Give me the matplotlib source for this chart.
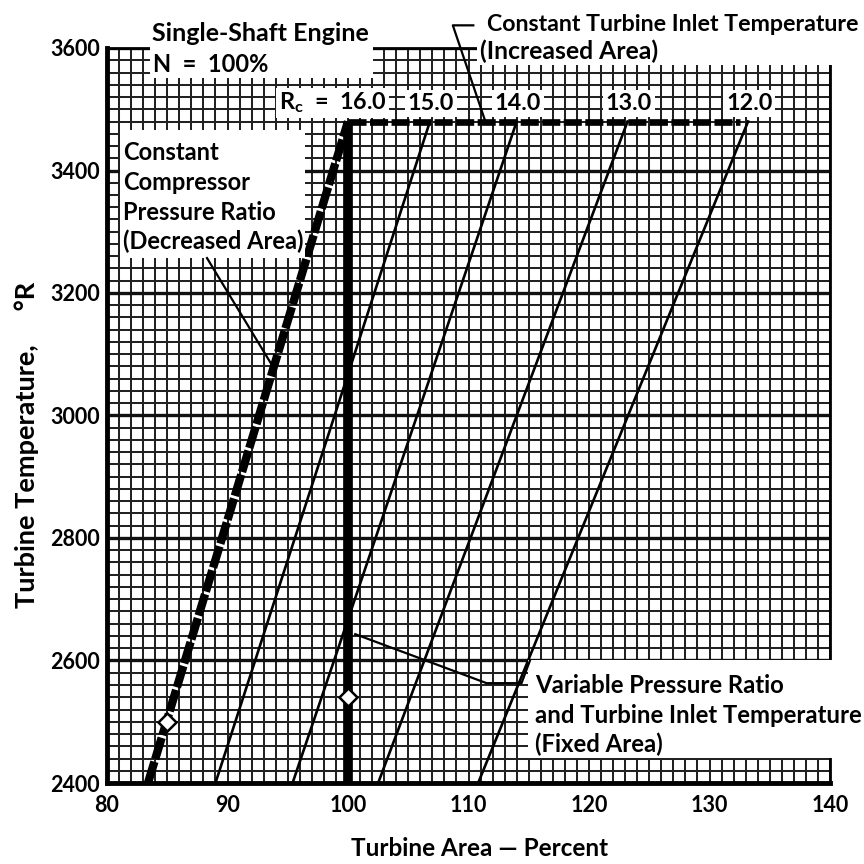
import matplotlib
matplotlib.use("Agg")
import matplotlib.pyplot as plt
from matplotlib.patches import Rectangle
import numpy as np

plt.rcParams['font.family'] = ['Lato', 'DejaVu Sans']
plt.rcParams['font.weight'] = 'bold'
plt.rcParams['mathtext.fontset'] = 'custom'
plt.rcParams['mathtext.rm'] = 'Lato:bold'
plt.rcParams['mathtext.it'] = 'Lato:bold'
plt.rcParams['mathtext.default'] = 'regular'
plt.rcParams['lines.scale_dashes'] = False

# Compressor pressure ratio lines: turbine area at 2400 R and at the inlet temperature limit
pressure_ratio = [16.0, 15.0, 14.0, 13.0, 12.0]
area_low = [83.4, 89.0, 95.4, 102.5, 110.8]
area_high = [100.0, 106.8, 114.0, 123.2, 133.2]
temp_low = 2400
temp_limit = 3480

# Fixed-area operation and constant inlet temperature operation
fixed_area = 100.0
const_temp_area = [100.0, 132.5]

# Design points
point_area = [85.0, 100.0]
point_temp = [2500, 2540]

x_ticks = [80, 90, 100, 110, 120, 130, 140]
y_ticks = [2400, 2600, 2800, 3000, 3200, 3400, 3600]

W = H = 864.0


def fx(px):
    return px / W


def fy(py):
    return 1 - py / H


fig = plt.figure(figsize=(8.64, 8.64), dpi=100)
ax = fig.add_axes([fx(107), fy(783), (830 - 107) / W, (783 - 48) / H])
ax.set_xlim(x_ticks[0], x_ticks[-1])
ax.set_ylim(y_ticks[0], y_ticks[-1])

# graph-paper grid
ax.set_xticks(x_ticks)
ax.set_xticks(np.arange(80, 141, 1), minor=True)
ax.set_yticks(y_ticks)
ax.set_yticks(np.arange(2400, 3601, 20), minor=True)
ax.tick_params(which='both', length=0)
ax.tick_params(axis='x', pad=9, labelsize=15.5)
ax.tick_params(axis='y', pad=5, labelsize=15.5)
ax.set_axisbelow(True)
ax.xaxis.grid(True, which='both', color='#222222', lw=1.45)
ax.yaxis.grid(True, which='minor', color='#222222', lw=1.45)
ax.yaxis.grid(True, which='major', color='#111111', lw=2.4)
for side in ('left', 'bottom'):
    ax.spines[side].set_linewidth(3.5)
for side in ('top', 'right'):
    ax.spines[side].set_linewidth(2.0)

# pressure ratio lines
for rc, a0, a1 in zip(pressure_ratio, area_low, area_high):
    if rc == 16.0:
        ax.plot([a0, a1], [temp_low, temp_limit], color='k', lw=6,
                dashes=(16, 2), solid_capstyle='butt', zorder=3)
    else:
        ax.plot([a0, a1], [temp_low, temp_limit], color='k', lw=1.9, zorder=3)

# fixed area line and constant inlet temperature line
ax.plot([fixed_area, fixed_area], [temp_low, temp_limit], color='k', lw=7,
        solid_capstyle='butt', zorder=3)
ax.plot(const_temp_area, [temp_limit, temp_limit], color='k', lw=4.8,
        dashes=(13, 2.5), zorder=3)

ax.plot(point_area, point_temp, linestyle='none', marker='D', ms=9,
        mfc='white', mec='k', mew=1.8, zorder=4)

# pressure ratio labels
label_temp = 3499
for rc, a1 in zip(pressure_ratio, area_high):
    if rc == 16.0:
        ax.text(a1 + 3.2, label_temp, 'R$_{c}$  =  %.1f' % rc, ha='right',
                va='baseline', fontsize=16.8, zorder=5,
                bbox=dict(boxstyle='square,pad=0.12', fc='white', ec='none'))
    else:
        ax.text(a1 + 0.1, label_temp, '%.1f' % rc, ha='center',
                va='baseline', fontsize=16.8, zorder=5,
                bbox=dict(boxstyle='square,pad=0.12', fc='white', ec='none'))

# white label panels cut into the graph paper
panels = [(150, 0, 373, 78), (477, 0, 864, 65), (120, 130, 305, 258),
          (528, 660, 864, 758)]
for x0, y0, x1, y1 in panels:
    ax.add_patch(Rectangle((fx(x0), fy(y1)), (x1 - x0) / W, (y1 - y0) / H,
                           transform=fig.transFigure, fc='white', ec='none',
                           zorder=4.5, clip_on=False))

notes = [
    (152, 41, 'Single-Shaft Engine', 18),
    (153, 72, 'N  =  100%', 17),
    (487, 31, 'Constant Turbine Inlet Temperature', 16.7),
    (480, 59, '(Increased Area)', 17.8),
    (123, 160, 'Constant', 17),
    (123, 190, 'Compressor', 17),
    (123, 220, 'Pressure Ratio', 17),
    (123, 249, '(Decreased Area)', 17),
    (535, 693, 'Variable Pressure Ratio', 17.2),
    (535, 723, 'and Turbine Inlet Temperature', 17.2),
    (535, 752, '(Fixed Area)', 17.2),
]
for px, py, s, size in notes:
    ax.text(fx(px), fy(py), s, transform=fig.transFigure, ha='left',
            va='baseline', fontsize=size, zorder=6, clip_on=False)

# leader lines
lead_t = 3078
lead_a = np.interp(lead_t, [temp_low, temp_limit], [area_low[0], area_high[0]])
ax.plot([88.3, lead_a], [3257, lead_t], color='k', lw=1.6, zorder=6,
        clip_on=False)
ax.plot([110.4, 108.7, 111.4], [3637, 3637, temp_limit], color='k', lw=1.6,
        zorder=6, clip_on=False)
ax.plot([fixed_area + 0.6, 111.5, 114.4, 115.1], [2643, 2563, 2563, 2600],
        color='k', lw=1.6, zorder=6, clip_on=False)

fig.text(fx(480), fy(848), 'Turbine Area \u2014 Percent', ha='center',
         va='center', fontsize=17.5)
fig.text(fx(27), fy(445), 'Turbine Temperature,\u2003\u2002\u00b0R',
         ha='center', va='center', rotation=90, fontsize=19.5)

fig.savefig('out.png', dpi=100)
